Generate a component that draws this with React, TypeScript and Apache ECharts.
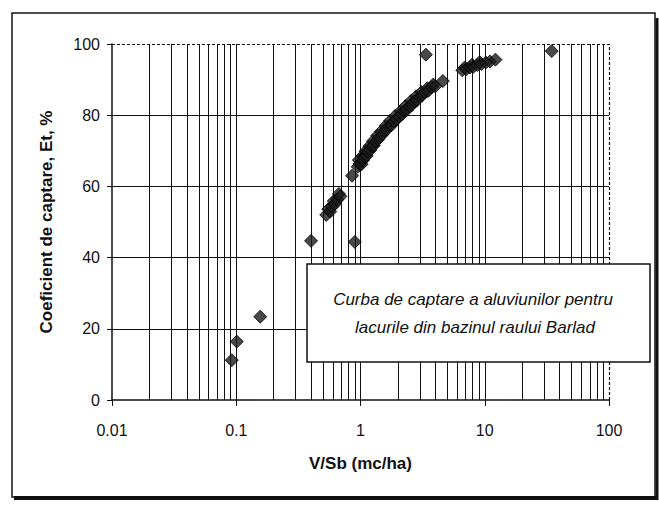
import React, { useEffect, useRef } from "react";
import * as echarts from "echarts";

// Data: [V/Sb (mc/ha), Et %]
const lowPoints: number[][] = [
  [0.092, 11.2],
  [0.101, 16.4],
  [0.156, 23.4],
  [0.4, 44.7],
  [0.9, 44.4],
  [0.855, 63.0],
];
const risingCluster: number[][] = [
  [0.53, 52.0], [0.55, 53.6], [0.57, 52.9], [0.59, 54.3], [0.61, 55.9], [0.62, 55.0],
  [0.65, 56.3], [0.67, 57.9], [0.69, 57.2],
];
const mainCluster: number[][] = [
  [0.95, 65.5], [0.97, 67.4], [0.98, 66.3], [1.02, 66.2], [1.04, 68.6], [1.05, 67.4],
  [1.08, 68.3], [1.1, 69.9], [1.12, 68.6], [1.15, 69.8], [1.18, 71.3], [1.2, 70.2],
  [1.24, 71.3], [1.26, 72.7], [1.28, 71.5], [1.33, 72.6], [1.36, 74.2], [1.38, 73.1],
  [1.43, 73.9], [1.46, 75.4], [1.5, 74.6], [1.56, 75.6], [1.59, 77.0], [1.62, 75.9],
  [1.7, 77.0], [1.73, 78.4], [1.78, 77.2], [1.86, 78.3], [1.9, 79.8], [1.95, 78.8],
  [2.05, 79.6], [2.1, 81.1], [2.15, 80.2], [2.25, 81.2], [2.3, 82.6], [2.35, 81.4],
  [2.48, 82.5], [2.55, 84.0], [2.6, 82.9], [2.72, 83.9], [2.8, 85.3], [2.85, 84.2],
  [3.0, 85.2], [3.1, 86.5], [3.15, 85.6], [3.3, 86.4], [3.45, 87.6], [3.5, 86.8],
  [3.75, 87.9], [3.85, 88.6], [4.0, 88.1], [4.6, 89.6],
];
const upperCluster: number[][] = [
  [6.6, 92.6], [6.9, 93.4], [7.1, 92.9], [7.6, 93.4], [7.9, 94.2], [8.1, 93.6],
  [8.7, 94.1], [9.1, 94.9], [9.4, 94.4], [10.2, 94.8], [11.0, 95.1], [12.2, 95.6],
];
const topPoints: number[][] = [
  [3.36, 97.0],
  [34.6, 98.0],
];

const xTickLabels = ["0.01", "0.1", "1", "10", "100"];
const yTicks = [0, 20, 40, 60, 80, 100];
const decades = [0.01, 0.1, 1, 10];
const multipliers = [1, 2, 3, 4, 5, 6, 7, 8, 9];

const xAxisTitle = "V/Sb (mc/ha)";
const yAxisTitle = "Coeficient de captare, Et, %";
const noteLines = [
  "Curba de captare a aluviunilor pentru",
  "lacurile din bazinul raului Barlad",
];

const FONT = '"Liberation Sans", Arial, sans-serif';

export default function App() {
  const ref = useRef<HTMLDivElement>(null);

  useEffect(() => {
    if (!ref.current) return;
    const chart = echarts.init(ref.current, undefined, { renderer: "svg" });

    const allPoints = [
      ...lowPoints,
      ...risingCluster,
      ...mainCluster,
      ...upperCluster,
      ...topPoints,
    ];

    const solid = { color: "#111", width: 1, type: "solid" as const };
    const dashed = { color: "#111", width: 1.2, type: [3, 2] as any };

    const gridLineData: any[] = [];
    decades.forEach((d) => {
      multipliers.forEach((m) => {
        const v = parseFloat((m * d).toPrecision(3));
        if (v > 0.01) gridLineData.push({ xAxis: v, lineStyle: solid });
      });
    });
    gridLineData.push({ xAxis: 100, lineStyle: dashed });
    yTicks.forEach((t) => {
      if (t > 0 && t < 100) gridLineData.push({ yAxis: t, lineStyle: solid });
    });
    gridLineData.push({ yAxis: 100, lineStyle: dashed });

    chart.setOption({
      animation: false,
      backgroundColor: "#fff",
      grid: { left: 112, right: 50, top: 44, bottom: 106 },
      xAxis: {
        type: "log",
        logBase: 10,
        min: 0.01,
        max: 100,
        name: xAxisTitle,
        nameLocation: "middle",
        nameGap: 55,
        nameTextStyle: { fontFamily: FONT, fontSize: 17, fontWeight: "bold", color: "#111" },
        axisLine: { show: true, lineStyle: { color: "#111", width: 1.5 } },
        axisTick: { show: true, length: 6, lineStyle: { color: "#111" } },
        axisLabel: {
          fontFamily: FONT,
          fontSize: 16,
          color: "#111",
          margin: 22,
          formatter: (v: number) => {
            const idx = Math.round(Math.log10(v)) + 2;
            return xTickLabels[idx] ?? String(v);
          },
        },
        splitLine: { show: false },
      },
      yAxis: {
        type: "value",
        min: 0,
        max: 100,
        interval: 20,
        name: yAxisTitle,
        nameLocation: "middle",
        nameRotate: 90,
        nameGap: 57,
        nameTextStyle: { fontFamily: FONT, fontSize: 17, fontWeight: "bold", color: "#111" },
        axisLine: { show: true, lineStyle: { color: "#111", width: 1.5 } },
        axisTick: { show: true, length: 5, lineStyle: { color: "#111" } },
        axisLabel: { fontFamily: FONT, fontSize: 16, color: "#111", margin: 12 },
        splitLine: { show: false },
      },
      graphic: [
        {
          type: "rect",
          z: 100,
          shape: { x: 12, y: 13, width: 643, height: 484 },
          style: { fill: "none", stroke: "#111", lineWidth: 1.5 },
        },
        {
          type: "line",
          z: 100,
          shape: { x1: 14, y1: 498, x2: 658, y2: 498 },
          style: { stroke: "#111", lineWidth: 4 },
        },
        {
          type: "line",
          z: 100,
          shape: { x1: 657, y1: 18, x2: 657, y2: 500 },
          style: { stroke: "#111", lineWidth: 3 },
        },
        {
          type: "rect",
          z: 100,
          shape: { x: 307, y: 264, width: 343, height: 98 },
          style: { fill: "#fff", stroke: "#111", lineWidth: 1.5 },
        },
        {
          type: "text",
          z: 101,
          style: {
            text: noteLines[0],
            x: 473,
            y: 299,
            fill: "#111",
            font: `italic 17px ${FONT}`,
            textAlign: "center",
            textVerticalAlign: "middle",
          },
        },
        {
          type: "text",
          z: 101,
          style: {
            text: noteLines[1],
            x: 475,
            y: 327,
            fill: "#111",
            font: `italic 17px ${FONT}`,
            textAlign: "center",
            textVerticalAlign: "middle",
          },
        },
      ],
      series: [
        {
          type: "scatter",
          z: 1,
          data: [],
          silent: true,
          markLine: {
            silent: true,
            symbol: ["none", "none"],
            label: { show: false },
            animation: false,
            data: gridLineData,
          },
        },
        {
          type: "scatter",
          z: 5,
          symbol: "diamond",
          symbolSize: 13,
          data: allPoints,
          itemStyle: { color: "#1c1c1c", borderColor: "#000", borderWidth: 1 },
        },
      ],
    });

    return () => chart.dispose();
  }, []);

  return (
    <div
      ref={ref}
      style={{ position: "fixed", left: 0, top: 0, width: 659, height: 506, background: "#fff" }}
    />
  );
}
